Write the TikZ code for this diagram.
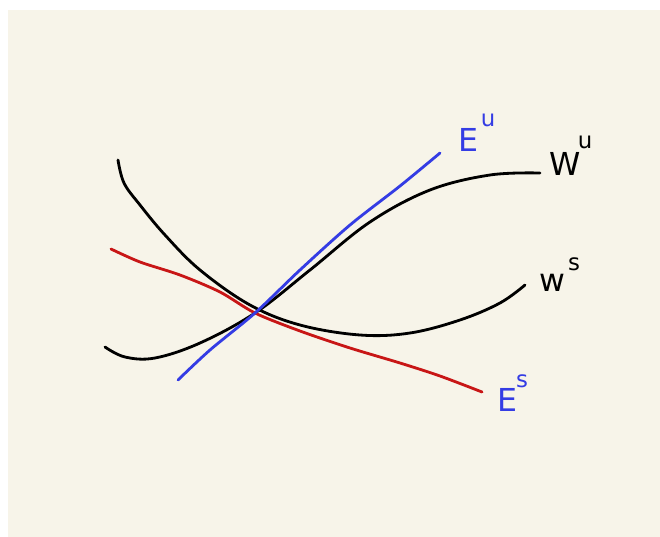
\documentclass[tikz,border=0pt]{standalone}
\usepackage{fontspec}
\setsansfont{DejaVu Sans}
\definecolor{bg}{RGB}{247,244,233}
\definecolor{penblue}{RGB}{52,60,228}
\definecolor{penred}{RGB}{200,22,22}
\begin{document}
\begin{tikzpicture}[x=0.02cm,y=-0.02cm,
  curve/.style={line width=1.6pt,line cap=round,line join=round},
  lab/.style={font=\sffamily\fontsize{18}{18}\selectfont,inner sep=0pt},
  sup/.style={font=\sffamily\fontsize{13}{13}\selectfont,inner sep=0pt}]
\useasboundingbox (0,0) rectangle (660,537);
\fill[white] (0,0) rectangle (660,537);
\fill[bg] (8,10) rectangle (660,537);
% W^s
\draw[curve,black] plot[smooth,tension=0.6] coordinates {(118,160) (124,183) (140,205) (165,235) (200,270) (250,305) (300,325) (360,335) (410,333) (460,320) (500,303) (525,285)};
% W^u
\draw[curve,black] plot[smooth,tension=0.6] coordinates {(105,347) (125,357) (155,358) (200,343) (255,313) (310,270) (370,222) (430,190) (490,175) (540,173)};
% E^s
\draw[curve,penred] plot[smooth,tension=0.5] coordinates {(111,249) (140,262) (180,275) (220,292) (255,313) (300,331) (350,348) (400,363) (440,376) (482,392)};
% E^u
\draw[curve,penblue] plot[smooth,tension=0.5] coordinates {(178,380) (210,350) (255,313) (300,270) (350,225) (400,186) (440,153)};
% labels
\node[lab,text=penblue] (eu) at (468,140) {E};
\node[sup,text=penblue] (eus) at (488,120) {u};
\node[lab] (wu) at (565,164) {W};
\node[sup] (wus) at (585,142) {u};
\node[lab] (ws) at (552,283) {w};
\node[sup] (wss) at (574,264) {s};
\node[lab,text=penblue] (es) at (507,400) {E};
\node[sup,text=penblue] (ess) at (522,381) {s};
\end{tikzpicture}
\end{document}
